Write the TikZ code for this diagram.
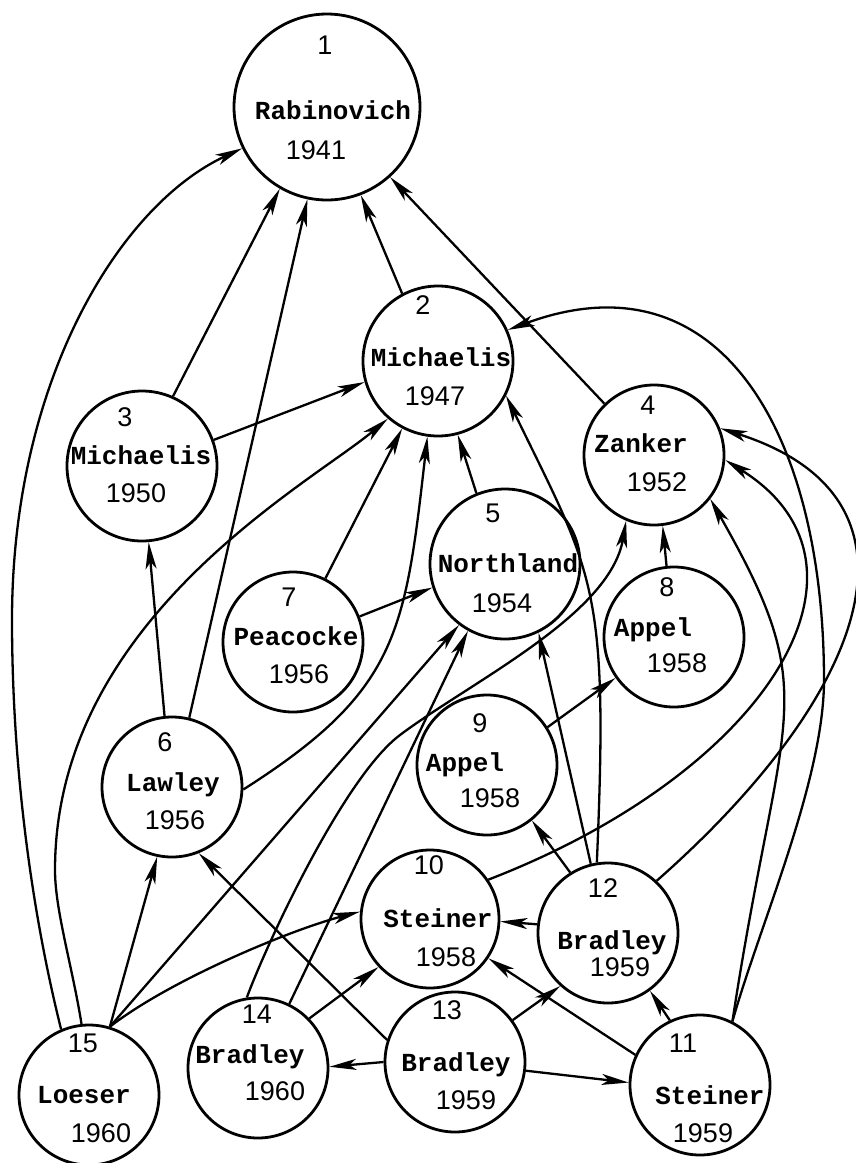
\documentclass[tikz,border=0pt]{standalone}
\usepackage{fontspec}
\newfontfamily\namefont{Liberation Mono}
\newfontfamily\numfont{Liberation Sans}
\usetikzlibrary{arrows.meta}
\begin{document}
\begin{tikzpicture}[x=1pt,y=-1pt,
  circ/.style={circle, draw, line width=2.8pt, inner sep=0pt, fill=white},
  nm/.style={font=\namefont\bfseries\fontsize{26}{30}\selectfont, inner sep=0pt, text depth=0pt},
  yr/.style={font=\numfont\fontsize{27}{30}\selectfont, inner sep=0pt, text depth=0pt},
  conn/.style={line width=2.3pt, -{Stealth[length=27pt,width=11pt,inset=7pt]}},
]
\useasboundingbox (0,0) rectangle (856,1163);
% circles
\node[circ, minimum size=186pt] (n1) at (327,107) {};
\node[circ, minimum size=150pt] (n2) at (438,361) {};
\node[circ, minimum size=150pt] (n3) at (142,466) {};
\node[circ, minimum size=140pt] (n4) at (654,455) {};
\node[circ, minimum size=150pt] (n5) at (505,564) {};
\node[circ, minimum size=140pt] (n6) at (172,787) {};
\node[circ, minimum size=140pt] (n7) at (293,642) {};
\node[circ, minimum size=140pt] (n8) at (674,637) {};
\node[circ, minimum size=140pt] (n9) at (487,765) {};
\node[circ, minimum size=138pt] (n10) at (430,919) {};
\node[circ, minimum size=140pt] (n11) at (700,1085) {};
\node[circ, minimum size=140pt] (n12) at (608,933) {};
\node[circ, minimum size=140pt] (n13) at (455,1062) {};
\node[circ, minimum size=140pt] (n14) at (258,1068) {};
\node[circ, minimum size=140pt] (n15) at (89,1095) {};
% texts
\node[yr] (t1a) at (325,45) {1};
\node[nm] (t1b) at (333,110) {Rabinovich};
\node[yr] (t1c) at (316,150) {1941};
\node[yr] (t2a) at (423,305) {2};
\node[nm] (t2b) at (441,357) {Michaelis};
\node[yr] (t2c) at (435,396) {1947};
\node[yr] (t3a) at (125,417) {3};
\node[nm] (t3b) at (141,455) {Michaelis};
\node[yr] (t3c) at (136,493) {1950};
\node[yr] (t4a) at (648,405) {4};
\node[nm] (t4b) at (641,443) {Zanker};
\node[yr] (t4c) at (657,482) {1952};
\node[yr] (t5a) at (493,513) {5};
\node[nm] (t5b) at (508,563) {Northland};
\node[yr] (t5c) at (502,603) {1954};
\node[yr] (t6a) at (165,742) {6};
\node[nm] (t6b) at (173,782) {Lawley};
\node[yr] (t6c) at (175,820) {1956};
\node[yr] (t7a) at (289,597) {7};
\node[nm] (t7b) at (296,636) {Peacocke};
\node[yr] (t7c) at (299,674) {1956};
\node[yr] (t8a) at (667,587) {8};
\node[nm] (t8b) at (653,627) {Appel};
\node[yr] (t8c) at (677,663) {1958};
\node[yr] (t9a) at (480,723) {9};
\node[nm] (t9b) at (465,762) {Appel};
\node[yr] (t9c) at (490,798) {1958};
\node[yr] (t10a) at (429,865) {10};
\node[nm] (t10b) at (438,918) {Steiner};
\node[yr] (t10c) at (446,957) {1958};
\node[yr] (t11a) at (683,1043) {11};
\node[nm] (t11b) at (710,1095) {Steiner};
\node[yr] (t11c) at (703,1133) {1959};
\node[yr] (t12a) at (603,888) {12};
\node[nm] (t12b) at (612,940) {Bradley};
\node[yr] (t12c) at (620,967) {1959};
\node[yr] (t13a) at (447,1010) {13};
\node[nm] (t13b) at (456,1062) {Bradley};
\node[yr] (t13c) at (466,1100) {1959};
\node[yr] (t14a) at (257,1014) {14};
\node[nm] (t14b) at (250,1054) {Bradley};
\node[yr] (t14c) at (275,1091) {1960};
\node[yr] (t15a) at (83,1043) {15};
\node[nm] (t15b) at (84,1095) {Loeser};
\node[yr] (t15c) at (101,1133) {1960};
% connectors
\draw[conn] (n15.113) .. controls (30,905) and (12,760) .. (12,620) .. controls (12,380) and (120,205) .. (n1.206);
\draw[conn] (n3.66) -- (n1.240);
\draw[conn] (n6.76) -- (n1.258);
\draw[conn] (n2.118) -- (n1.291);
\draw[conn] (n4.134) -- (n1.312);
\draw[conn] (n3.20) -- (n2.196);
\draw[conn] (n15.96) .. controls (72,965) and (55,910) .. (55,870) .. controls (55,620) and (310,484) .. (n2.229);
\draw[conn] (n7.63) -- (n2.242);
\draw[conn] (n6.358) .. controls (398,691) and (405,634) .. (n2.262);
\draw[conn] (n5.112) -- (n2.285);
\draw[conn] (n12.99) .. controls (609,583) and (593,575) .. (n2.333);
\draw[conn] (n11.63) .. controls (760,924) and (824,780) .. (824,680) .. controls (824,440) and (724,250) .. (n2.24);
\draw[conn] (n11.63) .. controls (781,703) and (825,700) .. (n4.322);
\draw[conn] (n12.47) .. controls (862,700) and (945,500) .. (n4.22);
\draw[conn] (n10.34) .. controls (767,772) and (895,566) .. (n4.356);
\draw[conn] (n14.99) .. controls (267,943) and (344,777) .. (400,735) .. controls (472,681) and (610,615) .. (n4.247);
\draw[conn] (n15.73) -- (n5.233);
\draw[conn] (n14.64) -- (n5.241);
\draw[conn] (n15.73) -- (n6.258);
\draw[conn] (n15.73) .. controls (170,980) and (290,930) .. (n10.174);
\draw[conn] (n6.96) -- (n3.275);
\draw[conn] (n7.21) -- (n5.198);
\draw[conn] (n8.96) -- (n4.277);
\draw[conn] (n9.32) -- (n8.215);
\draw[conn] (n12.122) -- (n9.309);
\draw[conn] (n12.104) -- (n5.296);
\draw[conn] (n12.173) -- (n10.358);
\draw[conn] (n11.115) -- (n12.306);
\draw[conn] (n11.155) -- (n10.326);
\draw[conn] (n13.36) -- (n12.228);
\draw[conn] (n13.353) -- (n11.178);
\draw[conn] (n13.180) -- (n14.1);
\draw[conn] (n13.162) -- (n6.292);
\draw[conn] (n14.44) -- (n10.223);
\end{tikzpicture}
\end{document}
